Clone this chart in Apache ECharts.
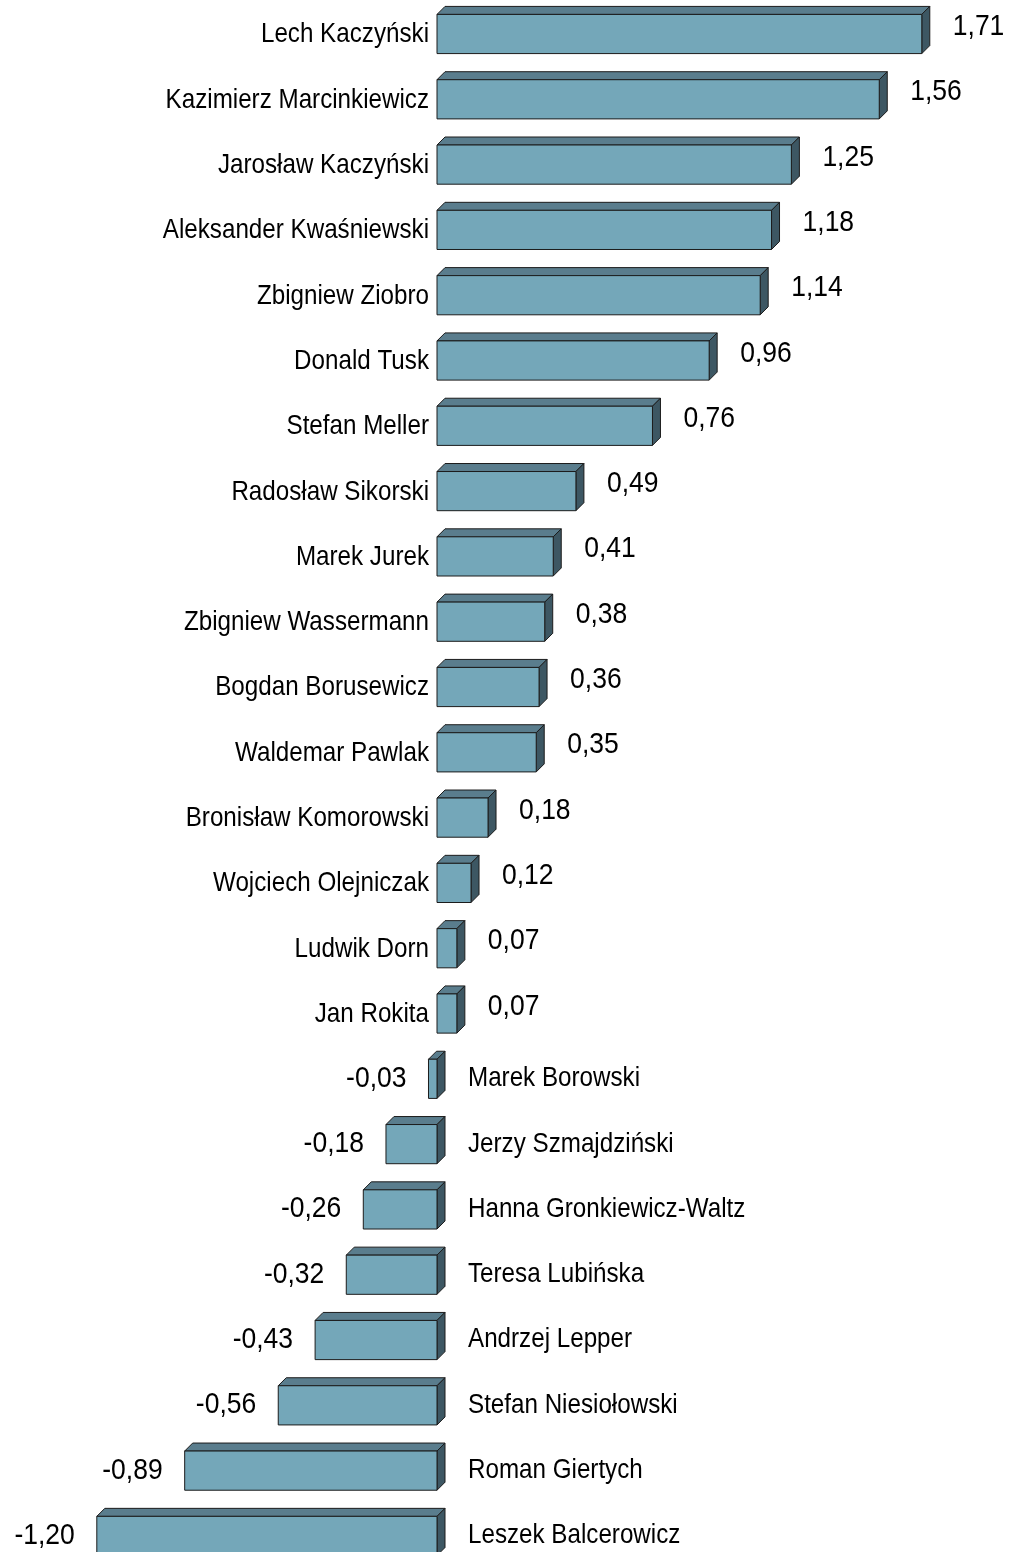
<!DOCTYPE html>
<html>
<head>
<meta charset="utf-8">
<script src="https://cdn.jsdelivr.net/npm/echarts@6/dist/echarts.min.js"></script>
<style>
html,body{margin:0;padding:0;background:#fff;}
#chart{width:1013px;height:1552px;}
</style>
</head>
<body>
<div id="chart"></div>
<script>
var names = [
  "Lech Kaczyński","Kazimierz Marcinkiewicz","Jarosław Kaczyński","Aleksander Kwaśniewski",
  "Zbigniew Ziobro","Donald Tusk","Stefan Meller","Radosław Sikorski","Marek Jurek",
  "Zbigniew Wassermann","Bogdan Borusewicz","Waldemar Pawlak","Bronisław Komorowski",
  "Wojciech Olejniczak","Ludwik Dorn","Jan Rokita","Marek Borowski","Jerzy Szmajdziński",
  "Hanna Gronkiewicz-Waltz","Teresa Lubińska","Andrzej Lepper","Stefan Niesiołowski",
  "Roman Giertych","Leszek Balcerowicz"
];
var values = [
  1.71,1.56,1.25,1.18,1.14,0.96,0.76,0.49,0.41,0.38,0.36,0.35,0.18,0.12,0.07,0.07,
  -0.03,-0.18,-0.26,-0.32,-0.43,-0.56,-0.89,-1.20
];

var FONT = "Liberation Sans";
var DEPTH = 8;
var NAME_SIZE = 24.2, NAME_SY = 1.12;
var VAL_SIZE = 26.5, VAL_SY = 1.1;

function fmt(v){ return v.toFixed(2).replace('.', ','); }

var seriesData = values.map(function(v, i){ return [v, i]; });

function renderItem(params, api){
  var v = api.value(0);
  var idx = api.value(1);
  var pZero = api.coord([0, idx]);
  var pVal = api.coord([v, idx]);
  var band = api.size([0, 1])[1];
  var h = band * 0.6;
  var cy = pZero[1];
  var yt = cy - h / 2, yb = cy + h / 2;
  var xl = Math.min(pZero[0], pVal[0]);
  var xr = Math.max(pZero[0], pVal[0]);
  var d = DEPTH;
  var stroke = '#1c1c1c';
  var children = [
    { type: 'polygon', shape: { points: [[xl, yt], [xl + d, yt - d], [xr + d, yt - d], [xr, yt]] },
      style: { fill: '#5A7D8D', stroke: stroke, lineWidth: 1 } },
    { type: 'polygon', shape: { points: [[xr, yt], [xr + d, yt - d], [xr + d, yb - d], [xr, yb]] },
      style: { fill: '#3D5763', stroke: stroke, lineWidth: 1 } },
    { type: 'rect', shape: { x: xl, y: yt, width: xr - xl, height: h },
      style: { fill: '#74A7B9', stroke: stroke, lineWidth: 1 } }
  ];
  var name = names[idx];
  if (v >= 0) {
    children.push({ type: 'text', x: pZero[0] - 8, y: cy + 1, scaleY: NAME_SY,
      style: { text: name, x: 0, y: 0, fill: '#000', fontSize: NAME_SIZE, fontFamily: FONT, align: 'right', verticalAlign: 'middle' } });
    children.push({ type: 'text', x: xr + d + 23, y: cy - 7, scaleY: VAL_SY,
      style: { text: fmt(v), x: 0, y: 0, fill: '#000', fontSize: VAL_SIZE, fontFamily: FONT, align: 'left', verticalAlign: 'middle' } });
  } else {
    children.push({ type: 'text', x: pZero[0] + d + 23, y: cy, scaleY: NAME_SY,
      style: { text: name, x: 0, y: 0, fill: '#000', fontSize: NAME_SIZE, fontFamily: FONT, align: 'left', verticalAlign: 'middle' } });
    children.push({ type: 'text', x: xl - 22, y: cy, scaleY: VAL_SY,
      style: { text: fmt(v), x: 0, y: 0, fill: '#000', fontSize: VAL_SIZE, fontFamily: FONT, align: 'right', verticalAlign: 'middle' } });
  }
  return { type: 'group', children: children };
}

var chart = echarts.init(document.getElementById('chart'), null, { renderer: 'canvas' });
chart.setOption({
  backgroundColor: '#ffffff',
  animation: false,
  grid: { left: 40.1, width: 963.9, top: 1.35, height: 1550.65, containLabel: false },
  xAxis: { type: 'value', min: -1.4, max: 2.0, show: false },
  yAxis: { type: 'value', min: -0.5, max: 23.246, inverse: true, show: false },
  series: [{
    type: 'custom',
    renderItem: renderItem,
    clip: false,
    encode: { x: 0, y: 1 },
    data: seriesData
  }]
});
</script>
</body>
</html>
